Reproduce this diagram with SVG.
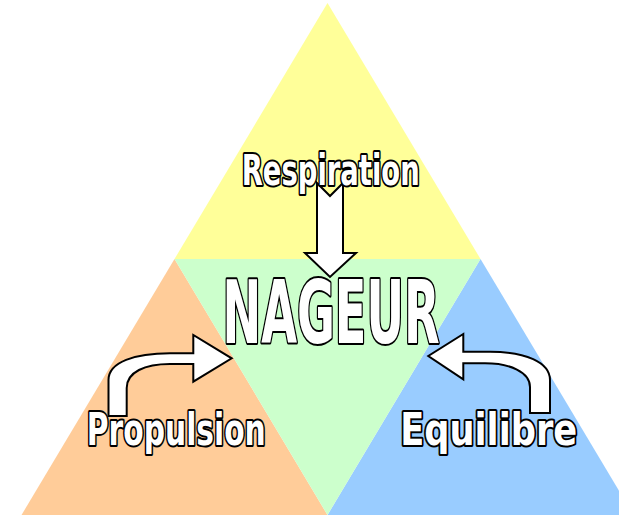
<svg xmlns="http://www.w3.org/2000/svg" width="619" height="515" viewBox="0 0 619 515">
<style>
.lbl{font-family:"Liberation Sans Narrow","DejaVu Sans Condensed","Liberation Sans",sans-serif;font-weight:bold;fill:#fff;stroke:#000;stroke-width:4;stroke-linejoin:round;paint-order:stroke;text-anchor:middle}
.arr{fill:#fff;stroke:#000;stroke-width:2;stroke-linejoin:miter}
</style>
<rect width="619" height="515" fill="#fff"/>
<g id="background">
<polygon points="327.5,3 480.5,259 174.5,259" fill="#FFFF99"/>
<polygon points="174.5,259 327.5,515 21.5,515" fill="#FFCC99"/>
<polygon points="480.5,259 633.5,515 327.5,515" fill="#99CCFF"/>
<polygon points="174.5,259 480.5,259 327.5,515" fill="#CCFFCC"/>
</g>
<g id="connectors">
<path class="arr" d="M317,183 L330,196 L343,183 L343,253 L356,253 L330,277 L305,253 L317,253 Z"/>
<path class="arr" d="M108.5,416 L108.5,380 C108.5,362 135,353.3 170,353.3 L193.3,353.3 L193.3,335 L231.7,358.3 L193.3,381.7 L193.3,364 L170,364 C145,364 126.7,372 126.7,388 L126.7,416 Z"/>
<path class="arr" d="M550,413 L550,380 C550,362 525,351.7 490,351.7 L463.3,351.7 L463.3,334 L428.3,356 L463.3,379.3 L463.3,363.3 L485,363.3 C510,363.3 530,372 530,387 L530,413 Z"/>
</g>
<g id="node-respiration">
<text class="lbl" x="330.7" y="185" font-size="42" textLength="178" lengthAdjust="spacingAndGlyphs">Respiration</text>
</g>
<g id="node-nageur">
<text class="lbl" x="331" y="343" font-size="88" textLength="217" lengthAdjust="spacingAndGlyphs">NAGEUR</text>
</g>
<g id="node-propulsion">
<text class="lbl" x="176.3" y="445" font-size="45" textLength="179" lengthAdjust="spacingAndGlyphs">Propulsion</text>
</g>
<g id="node-equilibre">
<text class="lbl" x="488.7" y="445" font-size="45" textLength="177" lengthAdjust="spacingAndGlyphs">Equilibre</text>
</g>
</svg>
